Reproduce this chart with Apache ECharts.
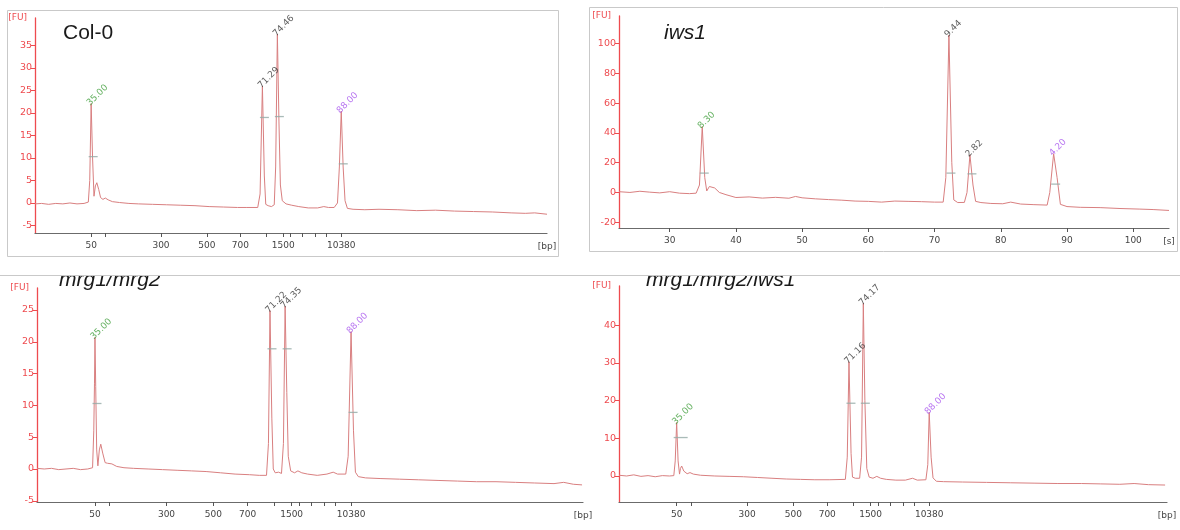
<!DOCTYPE html>
<html>
<head>
<meta charset="utf-8">
<title>Electropherograms</title>
<script src="https://cdn.jsdelivr.net/npm/echarts@6/dist/echarts.min.js"></script>
<style>
  html, body { margin: 0; padding: 0; background: #fff; }
  #chart { width: 1180px; height: 530px; }
</style>
</head>
<body>
<div id="chart"></div>
<script>
// Migration time [s] vs fluorescence [FU] for each sample.
const col0Trace = [[23.1,-0.2],[24.5,-0.1],[26,-0.3],[27.5,-0.1],[29,-0.2],[30.5,0],[32,-0.2],[33.5,-0.1],[34.4,0.2],[34.7,5],[35.0,22.1],[35.3,10],[35.6,1.5],[35.9,3.8],[36.2,4.5],[36.6,3],[37.0,1.2],[37.5,0.8],[38.0,1.1],[38.6,0.7],[39.5,0.3],[41,0.1],[43,-0.1],[45,-0.2],[48,-0.3],[51,-0.4],[54,-0.5],[57,-0.6],[60,-0.8],[63,-0.9],[66,-1.0],[68,-1.0],[70.3,-1.0],[70.8,2],[71.29,26.0],[71.7,6],[72.0,-0.3],[72.5,-0.6],[73.2,-0.8],[73.8,-0.4],[74.1,8],[74.46,37.5],[74.8,18],[75.1,4],[75.5,0.5],[76.3,-0.2],[77.5,-0.5],[79,-0.8],[81,-1.1],[83,-1.1],[84.3,-0.8],[84.7,-0.6],[85.3,-1.0],[86.5,-1.0],[87.2,0],[87.6,8],[88.0,20.4],[88.4,8],[88.8,0.5],[89.3,-1.2],[90.5,-1.4],[93,-1.5],[96,-1.4],[100,-1.5],[104,-1.7],[108,-1.6],[112,-1.8],[116,-1.9],[120,-2.0],[124,-2.2],[127,-2.3],[129,-2.2],[131.6,-2.5]];
const iws1Trace = [[22.35,0.5],[24,0],[25.5,0.8],[27,0.2],[28.5,-0.3],[30,0.5],[31.5,-0.5],[33,-0.8],[34,-0.5],[34.5,5],[34.92,44.3],[35.3,10],[35.6,1],[36.0,4],[36.3,5.2],[36.8,3],[37.5,0],[38.5,-1.5],[40,-3.4],[42,-3.0],[44,-3.8],[46,-3.3],[48,-3.9],[49,-2.7],[50,-3.6],[52,-4.3],[54,-4.8],[56,-5.2],[58,-5.8],[60,-6.0],[62,-6.5],[64,-5.8],[66,-6.0],[68,-6.2],[70,-6.5],[71.3,-6.5],[71.7,10],[72.17,105.8],[72.6,20],[72.9,-5],[73.5,-6.8],[74.5,-6.7],[74.9,0],[75.34,25.3],[75.8,5],[76.2,-6],[77,-6.8],[78.5,-7.4],[80.3,-7.6],[81.5,-6.5],[83,-7.8],[85,-8.2],[87,-8.5],[87.4,0],[87.98,26.0],[88.5,10],[89,-8],[90,-9.5],[92,-10],[95,-10.2],[98,-10.8],[101,-11.2],[103,-11.5],[105.4,-12.1]];
const mrgTrace = [[23.0,0.1],[24.5,0],[26,0.1],[27.5,-0.1],[29,0],[30.5,0.1],[32,-0.1],[33.5,0],[34.5,0.2],[34.75,6],[34.9,13.5],[35.0,20.7],[35.15,13],[35.35,3],[35.6,0.5],[35.9,3],[36.2,3.9],[36.6,2.5],[37.1,1],[37.6,0.9],[37.96,1.15],[38.5,0.8],[39.5,0.4],[41,0.2],[43,0.1],[46,0],[49,-0.1],[52,-0.2],[55,-0.3],[58,-0.4],[61,-0.6],[64,-0.8],[67,-0.9],[69,-1.0],[70.5,-1.0],[70.9,4],[71.22,24.9],[71.6,8],[71.9,0],[72.3,-0.6],[73,-0.5],[73.6,-0.7],[74.0,4],[74.35,25.6],[74.7,12],[75.0,2],[75.5,-0.3],[76.3,-0.6],[77,-0.3],[77.8,-0.6],[79,-0.8],[81,-1.0],[83,-0.8],[84.3,-0.5],[85.2,-0.8],[86.9,-0.8],[87.4,2],[88.0,21.6],[88.5,6],[88.9,-0.5],[89.5,-1.2],[91,-1.4],[94,-1.5],[98,-1.6],[102,-1.7],[106,-1.8],[110,-1.9],[114,-2.0],[118,-2.0],[122,-2.1],[126,-2.2],[130,-2.3],[132,-2.1],[134,-2.4],[135.8,-2.5]];
const mrgIwsTrace = [[22.9,0.2],[24.5,0],[26,0.3],[27.5,-0.1],[29,0.1],[30.5,-0.2],[32,0.1],[33.5,0],[34.4,0.1],[34.7,4],[35.0,14.2],[35.3,4],[35.6,0.5],[35.8,2],[36.05,2.65],[36.5,1.3],[37.2,0.6],[37.8,0.9],[38.5,0.5],[40,0.2],[43,0],[46,-0.1],[49,-0.2],[52,-0.4],[55,-0.6],[58,-0.8],[61,-0.9],[64,-1.0],[67,-1.0],[70.4,-0.9],[70.8,5],[71.16,30.3],[71.6,6],[71.9,-0.3],[72.5,-0.6],[73.4,-0.6],[73.8,5],[74.17,45.8],[74.5,20],[74.9,2],[75.4,-0.3],[76.2,-0.6],[77,-0.1],[77.8,-0.6],[79,-0.9],[81,-1.1],[83,-1.1],[84.5,-0.6],[85.5,-1.1],[87.3,-1.0],[87.7,3],[88.0,16.9],[88.4,5],[88.8,-0.5],[89.5,-1.4],[91,-1.5],[95,-1.6],[100,-1.7],[105,-1.8],[110,-1.9],[115,-2.0],[120,-2.0],[124,-2.1],[128,-2.2],[131,-2.0],[134,-2.3],[137.5,-2.4]];

// Annotated peaks: migration time and the text shown above each one.
const col0PeakTimes = [35.00, 71.29, 74.46, 88.00];
const col0PeakText = ['35.00', '71.29', '74.46', '88.00'];
const iws1PeakTimes = [34.92, 72.17, 75.34, 87.98];
const iws1PeakText = ['8.30', '9.44', '2.82', '4.20'];
const mrgPeakTimes = [35.00, 71.22, 74.35, 88.00];
const mrgPeakText = ['35.00', '71.22', '74.35', '88.00'];
const mrgIwsPeakTimes = [35.00, 71.16, 74.17, 88.00];
const mrgIwsPeakText = ['35.00', '71.16', '74.17', '88.00'];

// Peak-width markers [time, FU].
const col0Marks = [[35.0,10.3],[71.29,19.0],[74.46,19.2],[88.0,8.7]];
const iws1Marks = [[34.92,13],[72.17,13],[75.34,12.5],[87.98,5.6]];
const mrgMarks = [[35.0,10.3],[71.22,18.9],[74.35,18.9],[88.0,8.9]];
const mrgIwsMarks = [[71.16,19.3],[74.17,19.3]];
const mrgIwsWideMarks = [[35.0,10.2]];

// Ladder positions (time) and their size labels in bp.
const ladderTimes = [35.0, 38.0, 49.8, 59.5, 66.6, 72.1, 75.7, 77.2, 79.8, 82.5, 84.8, 88.0];
const ladderLabels = ['50', '', '300', '500', '700', '', '1500', '', '', '', '', '10380'];
const secondTicks = [30, 40, 50, 60, 70, 80, 90, 100];

const col0YTicks = [-5, 0, 5, 10, 15, 20, 25, 30, 35];
const iws1YTicks = [-20, 0, 20, 40, 60, 80, 100];
const mrgYTicks = [-5, 0, 5, 10, 15, 20, 25];
const mrgIwsYTicks = [0, 10, 20, 30, 40];

const titles = ['Col-0', 'iws1', 'mrg1/mrg2', 'mrg1/mrg2/iws1'];

const PEAK_COLORS = ['#3f9e3a', '#333333', '#333333', '#a653ee'];
const TRACE_COLOR = '#d97f80';
const AXIS_RED = '#ee4b4f';
const FONT = '"DejaVu Sans", Tahoma, sans-serif';

const panels = [
  { grid: { left: 35, top: 18, width: 512, height: 215 }, x: [23.1, 131.6], y: [-6.67, 41.1],
    trace: col0Trace, peakT: col0PeakTimes, peakS: col0PeakText, marks: col0Marks, wide: [],
    yTicks: col0YTicks, bp: true },
  { grid: { left: 619, top: 16, width: 550, height: 212 }, x: [22.35, 105.4], y: [-23.9, 118.6],
    trace: iws1Trace, peakT: iws1PeakTimes, peakS: iws1PeakText, marks: iws1Marks, wide: [],
    yTicks: iws1YTicks, bp: false },
  { grid: { left: 37, top: 288, width: 546, height: 214 }, x: [23.0, 136.0], y: [-5.19, 28.46],
    trace: mrgTrace, peakT: mrgPeakTimes, peakS: mrgPeakText, marks: mrgMarks, wide: [],
    yTicks: mrgYTicks, bp: true },
  { grid: { left: 619, top: 286, width: 548, height: 216 }, x: [22.9, 137.9], y: [-6.9, 50.4],
    trace: mrgIwsTrace, peakT: mrgIwsPeakTimes, peakS: mrgIwsPeakText, marks: mrgIwsMarks, wide: mrgIwsWideMarks,
    yTicks: mrgIwsYTicks, bp: true }
];

// Take each labelled peak's apex straight from its trace.
function peakApex(trace, t) {
  return trace.reduce((b, p) => Math.abs(p[0] - t) < Math.abs(b[0] - t) ? p : b);
}

const grids = [], xAxes = [], yAxes = [], series = [];
panels.forEach((p, i) => {
  grids.push(p.grid);
  const xTickVals = p.bp ? ladderTimes : secondTicks;
  const xLabelVals = p.bp ? ladderTimes.filter((t, k) => ladderLabels[k] !== '') : secondTicks;
  xAxes.push({
    type: 'value', gridIndex: i, min: p.x[0], max: p.x[1],
    name: p.bp ? '[bp]' : '[s]', nameLocation: 'end', nameGap: 0,
    nameTextStyle: { color: '#444', fontSize: 9, fontFamily: FONT, align: 'center', verticalAlign: 'top', padding: [9, 0, 0, 0] },
    splitLine: { show: false },
    axisLine: { onZero: false, lineStyle: { color: '#6b6b6b', width: 1.2 } },
    axisTick: { show: true, length: 4, customValues: xTickVals, lineStyle: { color: '#555' } },
    axisLabel: {
      customValues: xLabelVals, color: '#444', fontSize: 9, fontFamily: FONT, margin: 8,
      formatter: v => p.bp ? ladderLabels[ladderTimes.indexOf(v)] : String(v)
    }
  });
  yAxes.push({
    type: 'value', gridIndex: i, min: p.y[0], max: p.y[1],
    name: '[FU]', nameLocation: 'end', nameGap: 0,
    nameTextStyle: { color: AXIS_RED, fontSize: 9, fontFamily: FONT, align: 'right', verticalAlign: 'middle', padding: [0, 8, 0, 0] },
    splitLine: { show: false },
    axisLine: { show: true, lineStyle: { color: AXIS_RED, width: 1.3 } },
    axisTick: { show: true, length: 4, customValues: p.yTicks, lineStyle: { color: AXIS_RED } },
    axisLabel: { customValues: p.yTicks, color: AXIS_RED, fontSize: 9.5, fontFamily: FONT, margin: 3 }
  });
  series.push({
    type: 'line', xAxisIndex: i, yAxisIndex: i, data: p.trace,
    showSymbol: false, symbol: 'none', silent: true, clip: true,
    lineStyle: { color: TRACE_COLOR, width: 1 }, z: 3
  });
  series.push({
    type: 'scatter', xAxisIndex: i, yAxisIndex: i, silent: true,
    symbol: 'rect', symbolSize: [9, 1.3], symbolOffset: [2, 0],
    itemStyle: { color: '#93aaa6' }, data: p.marks, z: 4
  });
  if (p.wide.length) {
    series.push({
      type: 'scatter', xAxisIndex: i, yAxisIndex: i, silent: true,
      symbol: 'rect', symbolSize: [14, 1.3], symbolOffset: [4, 0],
      itemStyle: { color: '#93aaa6' }, data: p.wide, z: 4
    });
  }
  series.push({
    type: 'scatter', xAxisIndex: i, yAxisIndex: i, silent: true,
    symbolSize: 0, z: 5,
    data: p.peakT.map((t, k) => ({
      value: peakApex(p.trace, t),
      label: { formatter: p.peakS[k], color: PEAK_COLORS[k] }
    })),
    label: {
      show: true, position: 'top', rotate: 45, align: 'left', verticalAlign: 'middle',
      distance: 2, offset: [-4, 0], fontSize: 9, fontFamily: FONT
    }
  });
});

const titleFont = (italic) => (italic ? 'italic ' : '') + '21px "Liberation Sans", Arial, sans-serif';

const chart = echarts.init(document.getElementById('chart'), null, { renderer: 'canvas' });
chart.setOption({
  animation: false,
  backgroundColor: '#ffffff',
  grid: grids,
  xAxis: xAxes,
  yAxis: yAxes,
  series: series,
  graphic: [
    { type: 'rect', z: 0, silent: true, shape: { x: 7.5, y: 10.5, width: 551, height: 246 },
      style: { fill: 'none', stroke: '#c9c9c9', lineWidth: 1 } },
    { type: 'rect', z: 0, silent: true, shape: { x: 589.5, y: 7.5, width: 588, height: 244 },
      style: { fill: 'none', stroke: '#c9c9c9', lineWidth: 1 } },
    { type: 'text', z: 10, silent: true, x: 63, y: 33,
      style: { text: titles[0], font: titleFont(false), fill: '#1a1a1a', verticalAlign: 'middle' } },
    { type: 'text', z: 10, silent: true, x: 664, y: 33,
      style: { text: titles[1], font: titleFont(true), fill: '#1a1a1a', verticalAlign: 'middle' } },
    { type: 'text', z: 10, silent: true, x: 59, y: 280,
      style: { text: titles[2], font: titleFont(true), fill: '#1a1a1a', verticalAlign: 'middle' } },
    { type: 'text', z: 10, silent: true, x: 646, y: 280,
      style: { text: titles[3], font: titleFont(true), fill: '#1a1a1a', verticalAlign: 'middle' } },
    // the lower titles are cut by the band separating the two rows
    { type: 'rect', z: 11, silent: true, shape: { x: 0, y: 258, width: 1180, height: 17 },
      style: { fill: '#ffffff' } },
    { type: 'line', z: 12, silent: true, shape: { x1: 0, y1: 275.5, x2: 1180, y2: 275.5 },
      style: { stroke: '#c9c9c9', lineWidth: 1 } }
  ]
});
</script>
</body>
</html>
